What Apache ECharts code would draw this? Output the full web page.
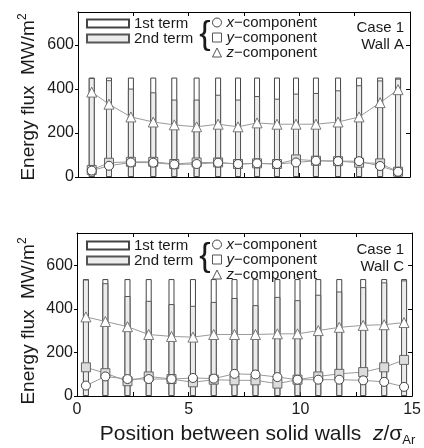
<!DOCTYPE html>
<html><head><meta charset="utf-8">
<script src="https://cdn.jsdelivr.net/npm/echarts@6/dist/echarts.min.js"></script>
<style>html,body{margin:0;padding:0;background:#fff}#c{width:424px;height:448px}</style>
</head><body><div id="c"></div>
<script>
// ---- data ----
const xTicks = [0, 5, 10, 15];
const yTicks = [0, 200, 400, 600];
// Panel A (Wall A)
const posA = [0.62, 1.40, 2.39, 3.40, 4.35, 5.36, 6.33, 7.23, 8.09, 8.99, 9.85, 10.75, 11.75, 12.70, 13.65, 14.46];
const secondA = [450, 440, 402, 385, 352, 352, 374, 352, 368, 356, 379, 382, 394, 417, 439, 447];
const firstA  = [2, 12, 50, 67, 100, 100, 78, 100, 84, 96, 73, 70, 58, 35, 13, 5];
const xCompA = [29, 51, 66, 65, 57, 59, 65, 59, 62, 59, 66, 74, 72, 72, 50, 24];
const yCompA = [32, 65, 69, 69, 59, 66, 66, 59, 62, 59, 80, 74, 72, 65, 62, 24];
const zCompA = [386, 331, 273, 250, 237, 228, 240, 228, 246, 240, 240, 240, 250, 273, 338, 397];
// Panel C (Wall C)
const posC = [0.40, 1.27, 2.26, 3.21, 4.23, 5.19, 6.12, 7.05, 7.99, 8.97, 9.87, 10.80, 11.74, 12.81, 13.75, 14.64];
const secondC = [536, 519, 460, 438, 423, 415, 433, 451, 418, 456, 441, 466, 481, 501, 523, 532];
const firstC  = [2, 19, 78, 100, 115, 123, 105, 87, 120, 82, 97, 72, 57, 37, 15, 6];
const xCompC = [48, 90, 78, 78, 78, 83, 80, 102, 99, 87, 75, 75, 75, 72, 65, 42];
const yCompC = [132, 105, 68, 90, 78, 63, 75, 72, 72, 57, 75, 90, 102, 110, 132, 166];
const zCompC = [364, 343, 319, 283, 274, 271, 283, 283, 283, 286, 286, 301, 316, 325, 328, 338];

const FONT = '"Liberation Sans", Arial, Helvetica, sans-serif';
const TXT = '#1a1a1a';
const zip = (xs, ys) => xs.map((x, i) => [x, ys[i]]);
// 1st term is stacked on top of 2nd term: its bar top is at (2nd + 1st)
const stackTop = (lower, upper) => lower.map((v, i) => v + upper[i]);

const chart = echarts.init(document.getElementById('c'), null, {renderer: 'canvas'});

const grids = [
  {left: 78, top: 12, width: 332, height: 165},
  {left: 77, top: 233, width: 336, height: 167}
];

function xAxisPair(g, withLabels) {
  const base = {
    gridIndex: g, type: 'value', min: 0, max: 15, interval: 2.5,
    axisLine: {show: true, onZero: false, lineStyle: {color: '#000', width: 1}},
    axisTick: {show: true, inside: true, length: 4, lineStyle: {color: '#000'}},
    splitLine: {show: false}
  };
  const bottom = Object.assign({}, base, {
    position: 'bottom',
    axisLabel: withLabels ? {
      show: true, fontSize: 16, color: TXT, fontFamily: FONT, margin: 6,
      formatter: v => xTicks.includes(v) ? String(v) : ''
    } : {show: false}
  });
  if (withLabels) {
    bottom.name = 'Position between solid walls  {i|z}/{s|σ}{sub|Ar}';
    bottom.nameLocation = 'middle';
    bottom.nameGap = 25;
    bottom.nameTextStyle = {
      fontSize: 21, color: TXT, fontFamily: FONT, lineHeight: 26, padding: [0, 0, 0, 26],
      rich: {
        i: {fontSize: 21, fontStyle: 'italic', fontFamily: FONT, color: TXT, lineHeight: 26},
        s: {fontSize: 21, fontFamily: FONT, color: TXT, lineHeight: 26},
        sub: {fontSize: 13, fontFamily: FONT, color: TXT, lineHeight: 13, verticalAlign: 'bottom'}
      }
    };
  }
  const top = Object.assign({}, base, {position: 'top', axisLabel: {show: false}});
  return [bottom, top];
}

function yAxisPair(g) {
  const base = {
    gridIndex: g, type: 'value', min: 0, max: 750, interval: 200,
    axisLine: {show: true, onZero: false, lineStyle: {color: '#000', width: 1}},
    splitLine: {show: false}
  };
  const left = Object.assign({}, base, {
    position: 'left',
    axisTick: {show: true, inside: false, length: 3, lineStyle: {color: '#000'}},
    axisLabel: {show: true, fontSize: 16, color: TXT, fontFamily: FONT, margin: 4, showMaxLabel: false,
      formatter: v => yTicks.includes(v) ? String(v) : ''}
  });
  const right = Object.assign({}, base, {
    position: 'right',
    axisTick: {show: true, inside: true, length: 4, lineStyle: {color: '#000'}},
    axisLabel: {show: false}
  });
  return [left, right];
}

const barStyle2 = {color: '#ececec', borderColor: '#555', borderWidth: 1};
const barStyle1 = {color: '#ffffff', borderColor: '#444', borderWidth: 1};
const lineStyle = {color: '#9a9a9a', width: 1};

function panelSeries(g, pos, first, second, xs, ys, zs) {
  const xa = g * 2, ya = g * 2;
  return [
    {name: '1st term', type: 'bar', xAxisIndex: xa, yAxisIndex: ya, barWidth: 6, barGap: '-100%',
      data: zip(pos, stackTop(second, first)), itemStyle: barStyle1, z: 1},
    {name: '2nd term', type: 'bar', xAxisIndex: xa, yAxisIndex: ya, barWidth: 6, barGap: '-100%',
      data: zip(pos, second), itemStyle: barStyle2, z: 2},
    {name: 'z−component', type: 'line', xAxisIndex: xa, yAxisIndex: ya, data: zip(pos, zs),
      symbol: 'triangle', symbolSize: 10, lineStyle: lineStyle,
      itemStyle: {color: '#fff', borderColor: '#777', borderWidth: 1}, z: 3},
    {name: 'y−component', type: 'line', xAxisIndex: xa, yAxisIndex: ya, data: zip(pos, ys),
      symbol: 'rect', symbolSize: 9, lineStyle: lineStyle,
      itemStyle: {color: '#dcdcdc', borderColor: '#666', borderWidth: 1}, z: 4},
    {name: 'x−component', type: 'line', xAxisIndex: xa, yAxisIndex: ya, data: zip(pos, xs),
      symbol: 'circle', symbolSize: 9, lineStyle: lineStyle,
      itemStyle: {color: '#fff', borderColor: '#444', borderWidth: 1}, z: 5}
  ];
}

const italicFirst = name => '{i|' + name.charAt(0) + '}' + name.slice(1);

function legends(dy) {
  return [
    {orient: 'vertical', left: 86, top: 16 + dy, padding: 0, itemWidth: 42, itemHeight: 8, itemGap: 0,
      icon: 'rect', selectedMode: false,
      data: ['1st term', '2nd term'],
      textStyle: {fontSize: 15, color: TXT, fontFamily: FONT, lineHeight: 14}},
    {orient: 'vertical', left: 212, top: 15 + dy, padding: 0, itemWidth: 9, itemHeight: 9, itemGap: 0,
      selectedMode: false,
      data: [
        {name: 'x−component', icon: 'circle', itemStyle: {color: '#fff', borderColor: '#444', borderWidth: 1}},
        {name: 'y−component', icon: 'rect', itemStyle: {color: '#fff', borderColor: '#555', borderWidth: 1}},
        {name: 'z−component', icon: 'triangle', itemStyle: {color: '#fff', borderColor: '#555', borderWidth: 1}}
      ],
      formatter: italicFirst,
      textStyle: {fontSize: 15, color: TXT, fontFamily: FONT, lineHeight: 14,
        rich: {i: {fontSize: 15, fontStyle: 'italic', fontFamily: FONT, color: TXT, lineHeight: 14}}}}
  ];
}

function panelGraphics(dy, wall, nameY) {
  return [
    {type: 'text', x: 205, y: 35 + dy, z: 10,
      style: {text: '{', font: '34px ' + FONT, fill: TXT, align: 'center', verticalAlign: 'middle'}},
    {type: 'text', x: 404, y: 19 + dy, z: 10,
      style: {text: 'Case 1\n' + wall, font: '15px ' + FONT, fill: TXT, align: 'right',
        verticalAlign: 'top', lineHeight: 17}},
    {type: 'text', x: 29, y: nameY, rotation: Math.PI / 2, z: 10,
      style: {text: 'Energy flux  MW/m{sup|2}', fontSize: 19, fontFamily: FONT, fill: TXT,
        align: 'center', verticalAlign: 'middle', lineHeight: 24,
        rich: {sup: {fontSize: 12, fontFamily: FONT, fill: TXT, lineHeight: 12, verticalAlign: 'top'}}}}
  ];
}

const [xa0, xa1] = xAxisPair(0, false);
const [xa2, xa3] = xAxisPair(1, true);
const [ya0, ya1] = yAxisPair(0);
const [ya2, ya3] = yAxisPair(1);

chart.setOption({
  animation: false,
  backgroundColor: '#fff',
  textStyle: {fontFamily: FONT},
  grid: grids,
  xAxis: [xa0, xa1, xa2, xa3],
  yAxis: [ya0, ya1, ya2, ya3],
  legend: legends(0).concat(legends(222)),
  graphic: panelGraphics(0, 'Wall A', 97).concat(panelGraphics(222, 'Wall C', 321)),
  series: panelSeries(0, posA, firstA, secondA, xCompA, yCompA, zCompA)
    .concat(panelSeries(1, posC, firstC, secondC, xCompC, yCompC, zCompC))
});
</script></body></html>
